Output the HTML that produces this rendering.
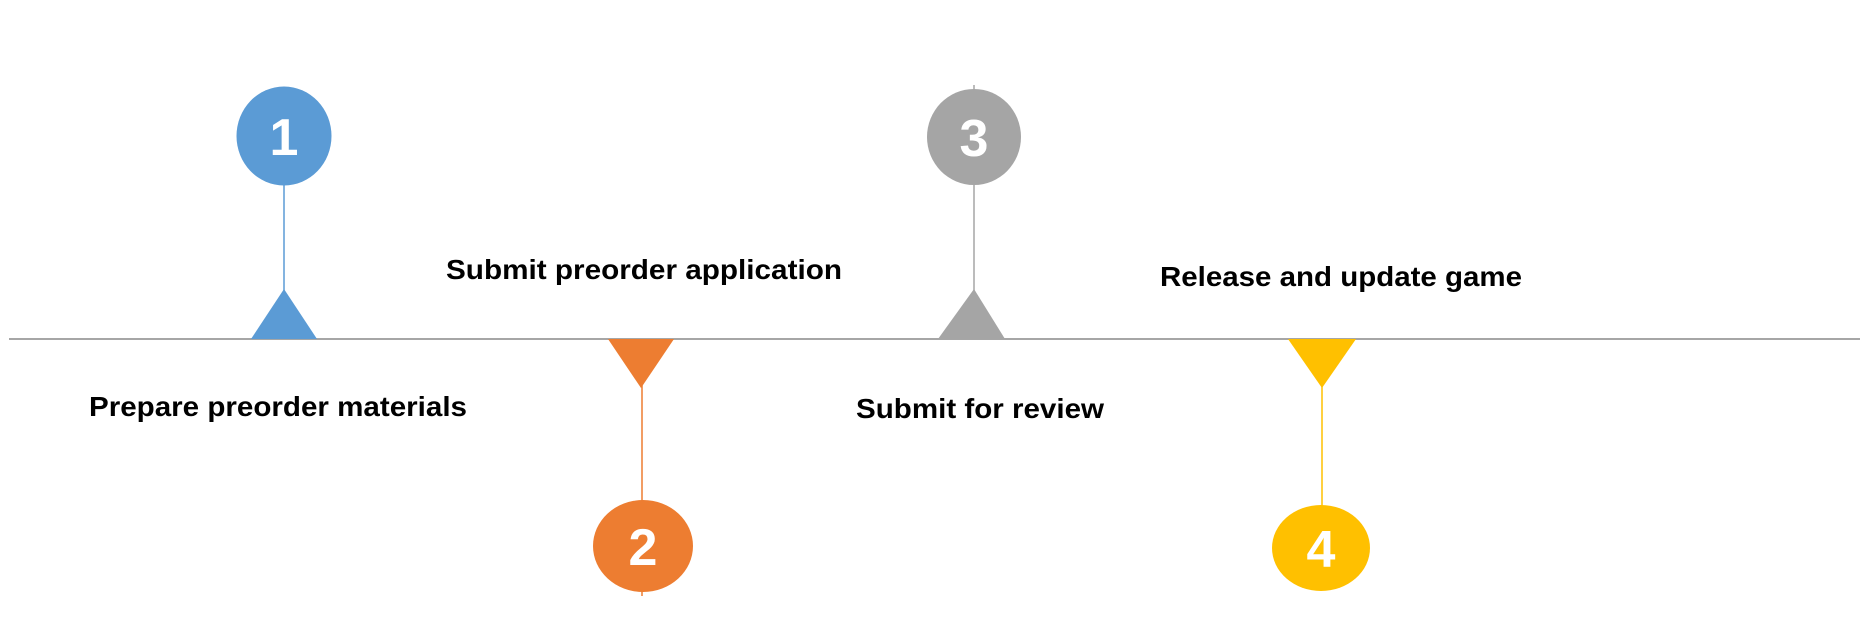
<!DOCTYPE html>
<html><head><meta charset="utf-8"><style>html,body{margin:0;padding:0;background:#fff}svg{display:block}</style></head>
<body>
<svg width="1860" height="632" viewBox="0 0 1860 632" xmlns="http://www.w3.org/2000/svg" font-family="'Liberation Sans', Arial, sans-serif" font-weight="bold">
<line x1="9" y1="339" x2="1860" y2="339" stroke="#a6a6a6" stroke-width="2"/>
<!-- 1 -->
<line x1="284" y1="184" x2="284" y2="292" stroke="#5B9BD5" stroke-width="1.5"/>
<polygon points="251,339 317,339 284,289" fill="#5B9BD5"/>
<ellipse cx="284" cy="136" rx="47.5" ry="49.5" fill="#5B9BD5"/>
<text x="284" y="155" font-size="52" fill="#fff" text-anchor="middle">1</text>
<!-- 2 -->
<polygon points="608,339 674,339 641,388" fill="#ED7D31"/>
<line x1="642" y1="385" x2="642" y2="596" stroke="#ED7D31" stroke-width="1.5"/>
<ellipse cx="643" cy="546" rx="50" ry="46" fill="#ED7D31"/>
<text x="643" y="565" font-size="52" fill="#fff" text-anchor="middle">2</text>
<!-- 3 -->
<line x1="974" y1="85" x2="974" y2="292" stroke="#A5A5A5" stroke-width="1.5"/>
<polygon points="938,339 1005,339 974,289" fill="#A5A5A5"/>
<ellipse cx="974" cy="137" rx="47" ry="48" fill="#A5A5A5"/>
<text x="974" y="156" font-size="52" fill="#fff" text-anchor="middle">3</text>
<!-- 4 -->
<polygon points="1288,339 1356,339 1322,388" fill="#FFC000"/>
<line x1="1322" y1="385" x2="1322" y2="506" stroke="#FFC000" stroke-width="1.5"/>
<ellipse cx="1321" cy="548" rx="49" ry="43" fill="#FFC000"/>
<text x="1321" y="567" font-size="52" fill="#fff" text-anchor="middle">4</text>
<!-- labels -->
<text x="446" y="279" font-size="28" fill="#000" textLength="396" lengthAdjust="spacingAndGlyphs">Submit preorder application</text>
<text x="89" y="416" font-size="28" fill="#000" textLength="378" lengthAdjust="spacingAndGlyphs">Prepare preorder materials</text>
<text x="856" y="418" font-size="28" fill="#000" textLength="248" lengthAdjust="spacingAndGlyphs">Submit for review</text>
<text x="1160" y="286" font-size="28" fill="#000" textLength="362" lengthAdjust="spacingAndGlyphs">Release and update game</text>
</svg>
</body></html>
